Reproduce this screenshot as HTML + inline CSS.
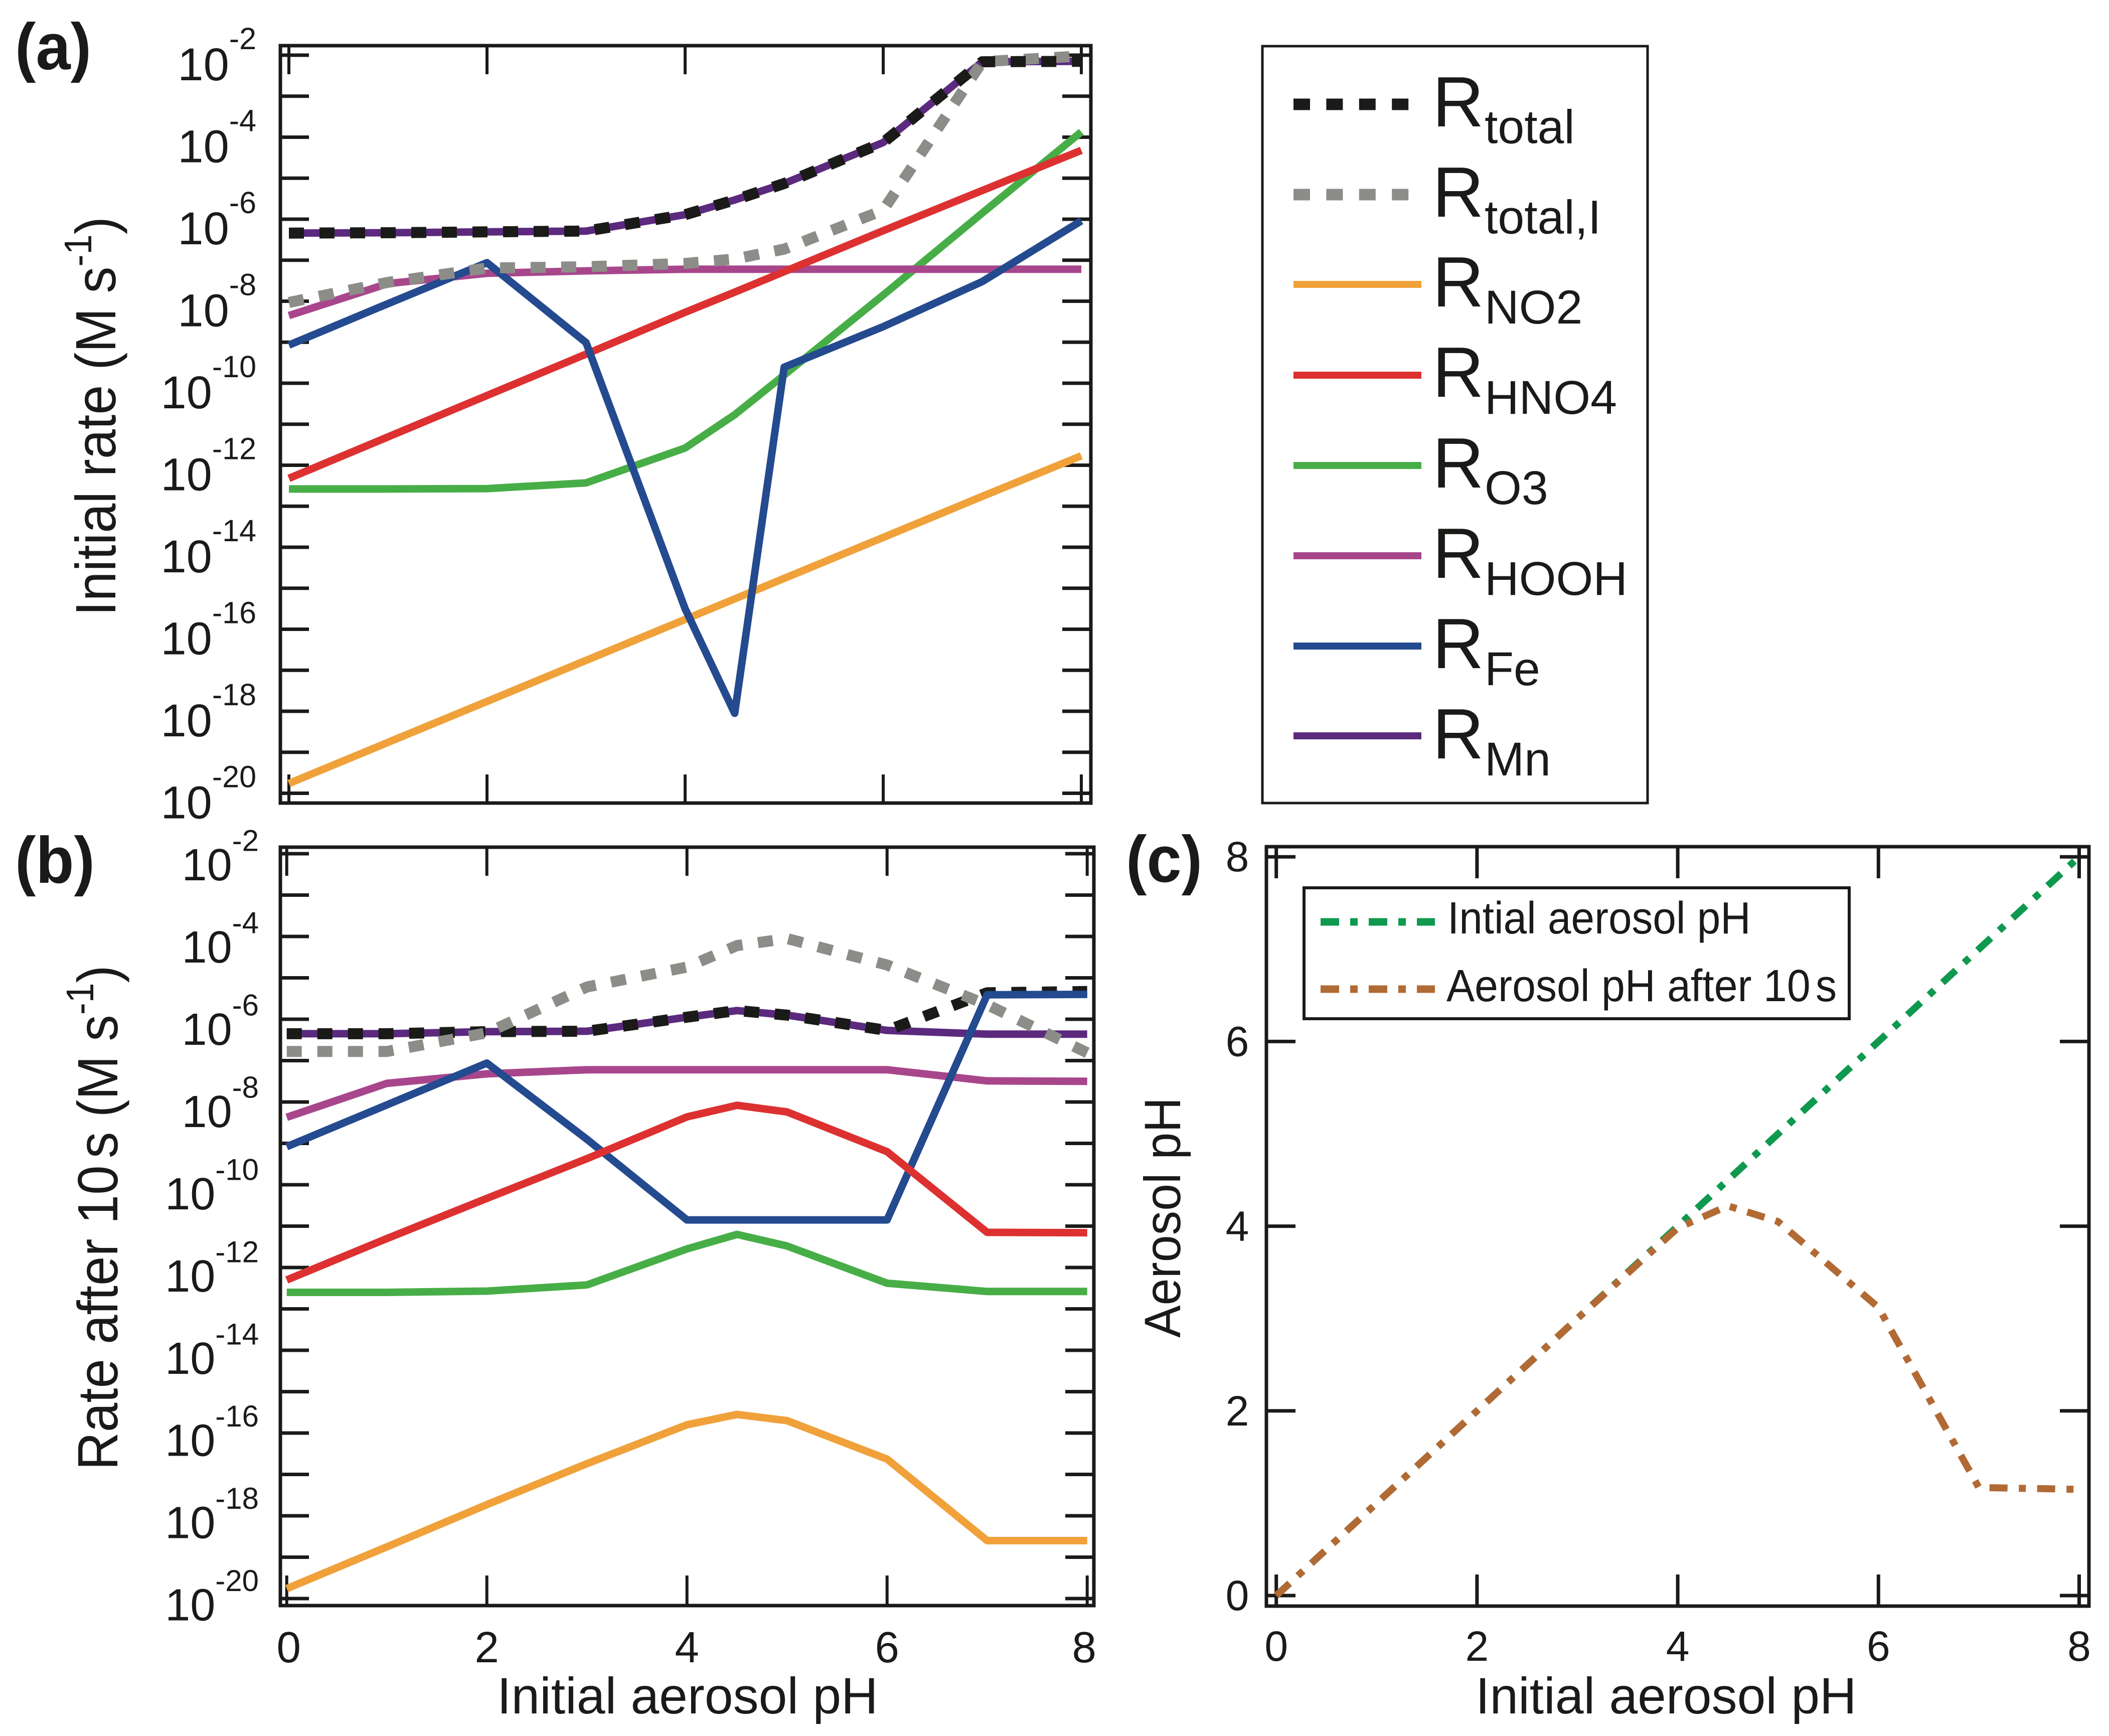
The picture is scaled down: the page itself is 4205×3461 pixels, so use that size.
<!DOCTYPE html>
<html lang="en">
<head>
<meta charset="utf-8">
<title>Aerosol pH and initial rates</title>
<style>
html,body{margin:0;padding:0;background:#fff;}
svg{display:block;}
text{font-family:"Liberation Sans",Arial,sans-serif;fill:#1a1a18;}
</style>
</head>
<body>
<svg id="fig" xmlns="http://www.w3.org/2000/svg" width="4205" height="3461" viewBox="0 0 4205 3461">
<rect x="0" y="0" width="4205" height="3461" fill="#ffffff"/>

<g id="panelA"></g>
<g id="panelB"></g>
<g id="panelC"></g>

<rect x="559" y="91" width="1616" height="1510" fill="none" stroke="#1a1a18" stroke-width="7"/>
<rect x="559" y="1689" width="1622" height="1512" fill="none" stroke="#1a1a18" stroke-width="7"/>
<rect x="2525" y="1688" width="1640" height="1514" fill="none" stroke="#1a1a18" stroke-width="7"/>

<text transform="translate(30,138) scale(.95,1)" font-size="131" font-weight="700">(a)</text>
<text transform="translate(30,1760) scale(.95,1)" font-size="131" font-weight="700">(b)</text>
<text transform="translate(2245,1758) scale(.95,1)" font-size="131" font-weight="700">(c)</text>

<text transform="translate(230,1228) rotate(-90) scale(.94,1)" font-size="113">Initial rate (M s<tspan font-size="77" dy="-48">-1</tspan><tspan dy="48">)</tspan></text>
<text transform="translate(234,2931) rotate(-90) scale(.93,1)" font-size="113">Rate after 10<tspan dx="-16"> s</tspan> (M s<tspan font-size="77" dy="-48">-1</tspan><tspan dy="48">)</tspan></text>
<text transform="translate(2353,2667) rotate(-90) scale(.95,1)" font-size="102">Aerosol pH</text>

<text transform="translate(991,3416)" font-size="102">Initial aerosol pH</text>
<text transform="translate(2942,3416)" font-size="102">Initial aerosol pH</text>

<g>
  <rect x="2517" y="92" width="768" height="1509" fill="#ffffff" stroke="#1a1a18" stroke-width="5"/>

  <line x1="2579" x2="2811" y1="208" y2="208" stroke="#1a1a18" stroke-width="23" stroke-dasharray="33 32.4"/>
  <text x="2856" y="252" font-size="142">R</text>
  <text x="2960" y="285.500" font-size="95">total</text>

  <line x1="2579" x2="2811" y1="388" y2="388" stroke="#8c8d88" stroke-width="23" stroke-dasharray="33 32.4"/>
  <text x="2856" y="432" font-size="142">R</text>
  <text x="2960" y="465.500" font-size="95">total,I</text>

  <line x1="2579" x2="2834" y1="567" y2="567" stroke="#f0a13a" stroke-width="14"/>
  <text x="2856" y="611" font-size="142">R</text>
  <text x="2960" y="645" font-size="95">NO2</text>

  <line x1="2579" x2="2834" y1="748" y2="748" stroke="#dc3130" stroke-width="14"/>
  <text x="2856" y="791" font-size="142">R</text>
  <text x="2960" y="825" font-size="95">HNO4</text>

  <line x1="2579" x2="2834" y1="928" y2="928" stroke="#47ae47" stroke-width="14"/>
  <text x="2856" y="972" font-size="142">R</text>
  <text x="2960" y="1005" font-size="95">O3</text>

  <line x1="2579" x2="2834" y1="1108" y2="1108" stroke="#a8468c" stroke-width="14"/>
  <text x="2856" y="1152" font-size="142">R</text>
  <text x="2960" y="1186" font-size="95">HOOH</text>

  <line x1="2579" x2="2834" y1="1288" y2="1288" stroke="#244a8f" stroke-width="14"/>
  <text x="2856" y="1332" font-size="142">R</text>
  <text x="2960" y="1366" font-size="95">Fe</text>

  <line x1="2579" x2="2834" y1="1467" y2="1467" stroke="#5b2a7e" stroke-width="14"/>
  <text x="2856" y="1512" font-size="142">R</text>
  <text x="2960" y="1546" font-size="95">Mn</text>
</g>

<g>
  <rect x="2600" y="1770" width="1087" height="261" fill="#ffffff" stroke="#1a1a18" stroke-width="6"/>
  <line x1="2633" x2="2861" y1="1838" y2="1838" stroke="#0f994e" stroke-width="15" stroke-dasharray="37 22 15 22"/>
  <text transform="translate(2886,1861) scale(.93,1)" font-size="90">Intial aerosol pH</text>
  <line x1="2633" x2="2861" y1="1972" y2="1972" stroke="#b26a34" stroke-width="15" stroke-dasharray="37 22 15 22"/>
  <text transform="translate(2884,1996) scale(.936,1)" font-size="90">Aerosol pH after 10<tspan dx="-14"> s</tspan></text>
</g>

<script>
// ---- shared data ----
const phValues = [0, 1, 2, 3, 4, 4.5, 5, 6, 7, 8];
const logTicks = [-2, -3, -4, -5, -6, -7, -8, -9, -10, -11, -12, -13, -14, -15, -16, -17, -18, -19, -20];
const logTickLabels = [-2, -4, -6, -8, -10, -12, -14, -16, -18, -20];
const phTicks = [0, 2, 4, 6, 8];

// ---- panel (a): log10 of initial rate ----
const aNO2   = [-19.76, -18.76, -17.76, -16.76, -15.76, -15.26, -14.76, -13.76, -12.76, -11.77];
const aHNO4  = [-12.32, -11.31, -10.3, -9.29, -8.27, -7.78, -7.28, -6.28, -5.3, -4.32];
const aO3    = [-12.58, -12.58, -12.57, -12.43, -11.58, -10.77, -9.8, -7.85, -5.85, -3.87];
const aHOOH  = [-8.35, -7.57, -7.32, -7.26, -7.22, -7.22, -7.22, -7.22, -7.22, -7.22];
const aFe    = [-9.07, -8.06, -7.06, -9.01, -15.5, -18.05, -9.61, -8.62, -7.52, -6.04];
const aMn    = [-6.34, -6.33, -6.31, -6.29, -5.89, -5.53, -5.13, -4.13, -2.16, -2.15];
const aTotal = [-6.34, -6.33, -6.31, -6.29, -5.89, -5.53, -5.13, -4.13, -2.16, -2.15];
const aTotalI = [-8.03, -7.54, -7.19, -7.16, -7.08, -6.97, -6.73, -5.78, -2.16, -2.02];

// ---- panel (b): log10 of rate after 10 s ----
const bNO2   = [-19.76, -18.75, -17.73, -16.74, -15.8, -15.55, -15.7, -16.63, -18.6, -18.6];
const bHNO4  = [-12.3, -11.3, -10.33, -9.37, -8.36, -8.08, -8.24, -9.2, -11.15, -11.16];
const bO3    = [-12.6, -12.6, -12.57, -12.42, -11.55, -11.2, -11.48, -12.38, -12.58, -12.58];
const bHOOH  = [-8.37, -7.55, -7.32, -7.22, -7.22, -7.22, -7.22, -7.22, -7.49, -7.5];
const bFe    = [-9.08, -8.07, -7.06, -8.9, -10.85, -10.85, -10.85, -10.85, -5.41, -5.4];
const bMn    = [-6.35, -6.35, -6.3, -6.29, -5.95, -5.79, -5.9, -6.27, -6.36, -6.36];
const bTotal = [-6.35, -6.35, -6.3, -6.29, -5.95, -5.79, -5.9, -6.27, -5.36, -5.33];
const bTotalI = [-6.78, -6.78, -6.33, -5.22, -4.74, -4.22, -4.05, -4.69, -5.65, -6.81];

// ---- panel (c): aerosol pH ----
const cInitial = [0, 1, 2, 3, 4, 4.5, 5, 6, 7, 8];
const cAfter10s = [0, 1, 2, 3, 3.98, 4.22, 4.05, 3.12, 1.17, 1.15];
const cTicks = [0, 2, 4, 6, 8];

// ---- axis functions ----
function xA(v) { return 576 + v * 197.5; }
function yA(v) { return 110 + (-2 - v) * 81.75; }
function xB(v) { return 571.7 + v * 199.5; }
function yB(v) { return 1702 + (-2 - v) * 82.5; }
function xC(v) { return 2544.7 + v * 200.1; }
function yC(v) { return 3181 - v * 184.1; }

const SVGNS = 'http://www.w3.org/2000/svg';
const INK = '#1a1a18';

function drawLine(parent, x1, y1, x2, y2, w, name) {
  const el = document.createElementNS(SVGNS, 'line');
  el.setAttribute('x1', x1);
  el.setAttribute('y1', y1);
  el.setAttribute('x2', x2);
  el.setAttribute('y2', y2);
  el.setAttribute('stroke', INK);
  el.setAttribute('stroke-width', w);
  
  
  parent.appendChild(el);
}

function drawSeries(parent, xs, ys, xf, yf, color, width, dash, name) {
  const el = document.createElementNS(SVGNS, 'polyline');
  const pts = xs.map(function (x, i) { return xf(x).toFixed(1) + ',' + yf(ys[i]).toFixed(1); }).join(' ');
  el.setAttribute('points', pts);
  el.setAttribute('fill', 'none');
  el.setAttribute('stroke', color);
  el.setAttribute('stroke-width', width);
  el.setAttribute('stroke-linejoin', 'round');
  if (dash) el.setAttribute('stroke-dasharray', dash);
  
  
  parent.appendChild(el);
}

function drawPowerLabel(parent, exp, xEnd, yBase, size, supSize, supDy, name) {
  const t = document.createElementNS(SVGNS, 'text');
  t.setAttribute('x', xEnd);
  t.setAttribute('y', yBase);
  t.setAttribute('text-anchor', 'end');
  t.setAttribute('font-size', size);
  
  
  const base = document.createElementNS(SVGNS, 'tspan');
  base.textContent = '10';
  const sup = document.createElementNS(SVGNS, 'tspan');
  sup.setAttribute('font-size', supSize);
  sup.setAttribute('dy', supDy);
  sup.textContent = String(exp);
  t.appendChild(base);
  t.appendChild(sup);
  parent.appendChild(t);
}

function drawPlainLabel(parent, str, x, y, size, name) {
  const t = document.createElementNS(SVGNS, 'text');
  t.setAttribute('x', x);
  t.setAttribute('y', y);
  t.setAttribute('text-anchor', 'middle');
  t.setAttribute('font-size', size);
  
  
  t.textContent = str;
  parent.appendChild(t);
}

// ---- panel (a) ----
const pa = document.getElementById('panelA');
logTicks.forEach(function (e) {
  drawLine(pa, 559, yA(e), 616, yA(e), 7, 'panel-a-left-tick');
  drawLine(pa, 2118, yA(e), 2175, yA(e), 7, 'panel-a-right-tick');
});
phTicks.forEach(function (v) {
  drawLine(pa, xA(v), 91, xA(v), 148, 6, 'panel-a-top-tick');
  drawLine(pa, xA(v), 1544, xA(v), 1601, 6, 'panel-a-bottom-tick');
});
logTickLabels.forEach(function (e) {
  drawPowerLabel(pa, e, 511, yA(e) + 50, 92, 61, -62, 'panel-a-y-tick-label');
});
drawSeries(pa, phValues, aNO2, xA, yA, '#f0a13a', 15, null, 'panel-a-series-no2');
drawSeries(pa, phValues, aO3, xA, yA, '#47ae47', 15, null, 'panel-a-series-o3');
drawSeries(pa, phValues, aHOOH, xA, yA, '#a8468c', 15, null, 'panel-a-series-hooh');
drawSeries(pa, phValues, aHNO4, xA, yA, '#dc3130', 15, null, 'panel-a-series-hno4');
drawSeries(pa, phValues, aFe, xA, yA, '#244a8f', 15, null, 'panel-a-series-fe');
drawSeries(pa, phValues, aMn, xA, yA, '#5b2a7e', 15, null, 'panel-a-series-mn');
drawSeries(pa, phValues, aTotalI, xA, yA, '#8c8d88', 22, '30 31', 'panel-a-series-total-i');
drawSeries(pa, phValues, aTotal, xA, yA, '#1a1a18', 22, '30 31', 'panel-a-series-total');

// ---- panel (b) ----
const pb = document.getElementById('panelB');
logTicks.forEach(function (e) {
  drawLine(pb, 559, yB(e), 616, yB(e), 7, 'panel-b-left-tick');
  drawLine(pb, 2124, yB(e), 2181, yB(e), 7, 'panel-b-right-tick');
});
phTicks.forEach(function (v) {
  drawLine(pb, xB(v), 1689, xB(v), 1746, 6, 'panel-b-top-tick');
  drawLine(pb, xB(v), 3141, xB(v), 3201, 6, 'panel-b-bottom-tick');
  drawPlainLabel(pb, String(v), xB(v) + (v === 8 ? -6 : v === 0 ? 4 : 0), 3314, 87, 'panel-b-x-tick-label');
});
logTickLabels.forEach(function (e) {
  drawPowerLabel(pb, e, 516, yB(e) + 53 + (e + 2) * 0.52, 90, 60, -58.5, 'panel-b-y-tick-label');
});
drawSeries(pb, phValues, bNO2, xB, yB, '#f0a13a', 15, null, 'panel-b-series-no2');
drawSeries(pb, phValues, bO3, xB, yB, '#47ae47', 15, null, 'panel-b-series-o3');
drawSeries(pb, phValues, bHOOH, xB, yB, '#a8468c', 15, null, 'panel-b-series-hooh');
drawSeries(pb, phValues, bMn, xB, yB, '#5b2a7e', 15, null, 'panel-b-series-mn');
drawSeries(pb, phValues, bTotal, xB, yB, '#1a1a18', 22, '30 31', 'panel-b-series-total');
drawSeries(pb, phValues, bTotalI, xB, yB, '#8c8d88', 22, '30 31', 'panel-b-series-total-i');
drawSeries(pb, phValues, bFe, xB, yB, '#244a8f', 15, null, 'panel-b-series-fe');
drawSeries(pb, phValues, bHNO4, xB, yB, '#dc3130', 15, null, 'panel-b-series-hno4');

// ---- panel (c) ----
const pc = document.getElementById('panelC');
cTicks.forEach(function (v) {
  drawLine(pc, 2525, yC(v), 2583, yC(v), 7, 'panel-c-left-tick');
  drawLine(pc, 4107, yC(v), 4165, yC(v), 7, 'panel-c-right-tick');
  drawLine(pc, xC(v), 1688, xC(v), 1751, 7, 'panel-c-top-tick');
  drawLine(pc, xC(v), 3139, xC(v), 3202, 7, 'panel-c-bottom-tick');
  drawPlainLabel(pc, String(v), xC(v), 3311, 84, 'panel-c-x-tick-label');
  drawPlainLabel(pc, String(v), 2467, yC(v) + 29, 84, 'panel-c-y-tick-label');
});
drawSeries(pc, phValues, cInitial, xC, yC, '#0f994e', 14, '36 22.5 14 22.5', 'panel-c-series-initial-ph');
drawSeries(pc, phValues, cAfter10s, xC, yC, '#b26a34', 14, '36 22.5 14 22.5', 'panel-c-series-ph-after-10s');
</script>
</svg>
</body>
</html>
